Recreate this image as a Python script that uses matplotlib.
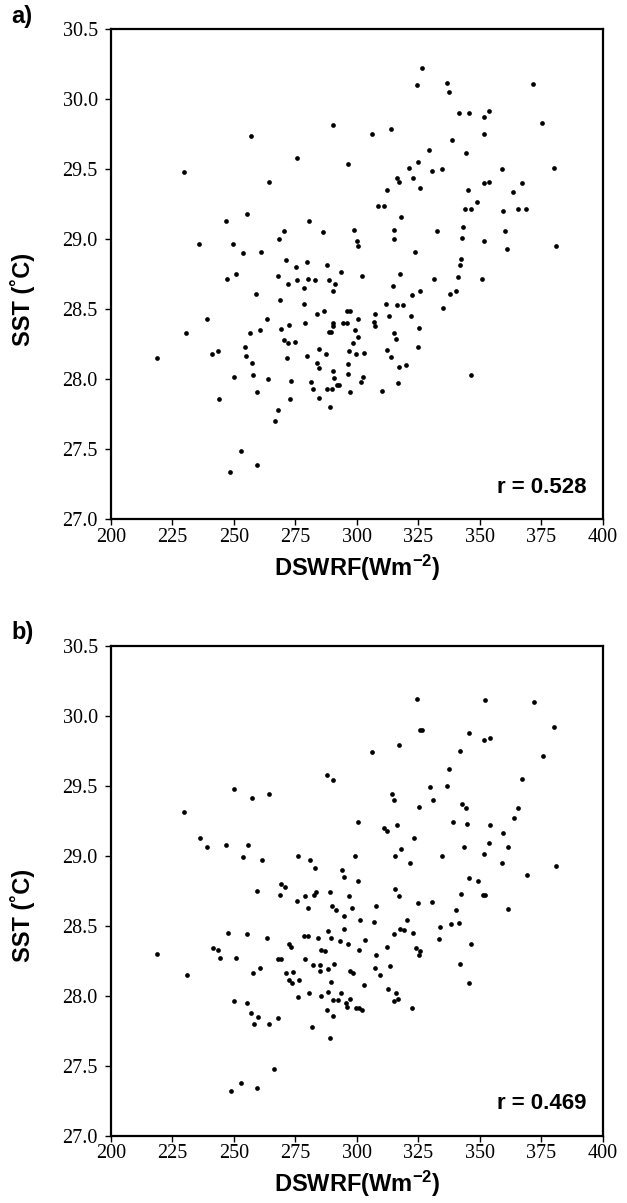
#!/usr/bin/env python3
"""Two-panel scatter: SST versus downward shortwave radiation flux."""

import matplotlib

matplotlib.use("Agg")
import matplotlib.pyplot as plt
from matplotlib.ticker import FormatStrFormatter

plt.rcParams["mathtext.fontset"] = "custom"
plt.rcParams["mathtext.rm"] = "Liberation Sans:bold"
plt.rcParams["mathtext.default"] = "rm"

# panel a) values
A_DSWRF = [
    229.6, 256.9, 290.2, 275.8, 296.4, 264.1, 255.5, 246.6, 280.5, 270.3,
    286.2, 268.4, 236.0, 249.8, 253.6, 261.1, 271.1, 275.3, 279.7, 287.7,
    293.5, 247.3, 250.8, 267.8, 272.0, 275.6, 280.1, 283.1, 288.7, 291.1,
    278.6, 290.5, 259.2, 268.9, 278.6, 239.0, 230.7, 263.4, 286.6, 284.0,
    296.1, 297.3, 278.8, 272.6, 290.5, 290.2, 289.6, 288.9, 294.2, 296.2,
    269.0, 256.6, 260.5, 270.4, 272.2, 275.0, 254.5, 255.1, 241.1, 243.4,
    218.9, 257.4, 271.8, 279.8, 284.6, 287.4, 284.0, 284.6, 296.8, 296.4,
    290.2, 290.7, 296.3, 249.9, 257.9, 263.8, 273.1, 281.2, 282.0, 287.8,
    289.8, 291.8, 292.6, 297.3, 259.6, 244.1, 273.0, 284.7, 289.1, 267.9,
    266.8, 252.8, 248.6, 259.3,
    326.4, 324.4, 336.6, 337.4, 371.9, 341.6, 345.5, 351.8, 353.8, 375.3,
    306.0, 314.0, 351.9, 338.8, 329.5, 344.5, 325.0, 321.3, 330.7, 334.6,
    316.2, 317.2, 322.9, 325.6, 359.0, 380.1, 351.6, 353.8, 367.1, 363.6,
    312.1, 345.4, 349.0, 344.1, 346.4, 359.4, 365.6, 369.0, 308.5, 311.1,
    317.8, 298.8, 315.0, 315.3, 300.2, 300.3, 332.6, 343.1, 342.8, 351.8,
    360.5, 361.2, 381.0, 323.7, 342.3, 341.8, 302.1, 317.7, 331.6, 341.2,
    351.1, 314.7, 325.6, 322.6, 338.1, 340.3, 312.0, 316.5, 318.9, 334.9,
    300.7, 299.3, 300.7, 298.4, 299.5, 302.9, 302.4, 301.6, 307.3, 307.0,
    307.3, 313.0, 322.0, 325.2, 315.1, 316.1, 324.8, 312.4, 313.8, 317.2,
    319.9, 316.7, 310.3, 346.3,
]
A_SST = [
    29.48, 29.74, 29.82, 29.58, 29.54, 29.41, 29.18, 29.13, 29.13, 29.06,
    29.05, 29.00, 28.97, 28.97, 28.90, 28.91, 28.85, 28.80, 28.84, 28.82,
    28.77, 28.72, 28.75, 28.74, 28.68, 28.71, 28.72, 28.71, 28.71, 28.68,
    28.65, 28.63, 28.61, 28.57, 28.54, 28.43, 28.33, 28.43, 28.49, 28.47,
    28.49, 28.49, 28.40, 28.39, 28.40, 28.38, 28.34, 28.34, 28.40, 28.40,
    28.36, 28.33, 28.35, 28.28, 28.26, 28.27, 28.23, 28.17, 28.18, 28.20,
    28.15, 28.12, 28.15, 28.17, 28.22, 28.18, 28.12, 28.08, 28.20, 28.11,
    28.06, 28.01, 28.04, 28.02, 28.03, 28.00, 27.99, 27.98, 27.93, 27.93,
    27.93, 27.96, 27.96, 27.91, 27.91, 27.86, 27.86, 27.87, 27.80, 27.78,
    27.70, 27.49, 27.34, 27.39,
    30.225, 30.10, 30.12, 30.05, 30.11, 29.90, 29.90, 29.875, 29.92, 29.83,
    29.75, 29.79, 29.75, 29.71, 29.64, 29.62, 29.55, 29.51, 29.49, 29.50,
    29.44, 29.41, 29.44, 29.37, 29.50, 29.51, 29.40, 29.41, 29.40, 29.34,
    29.35, 29.35, 29.27, 29.22, 29.22, 29.20, 29.22, 29.22, 29.24, 29.24,
    29.16, 29.07, 29.07, 29.00, 28.99, 28.95, 29.06, 29.09, 29.01, 28.99,
    29.06, 28.93, 28.95, 28.91, 28.86, 28.82, 28.74, 28.75, 28.72, 28.73,
    28.72, 28.67, 28.63, 28.60, 28.61, 28.63, 28.54, 28.53, 28.53, 28.51,
    28.43, 28.35, 28.30, 28.26, 28.18, 28.19, 28.02, 27.98, 28.47, 28.41,
    28.38, 28.45, 28.45, 28.37, 28.33, 28.29, 28.23, 28.21, 28.16, 28.09,
    28.10, 27.975, 27.92, 28.03,
]

# panel b) values
B_DSWRF = [
    250.1, 257.2, 264.3, 229.9, 236.3, 239.2, 246.8, 255.9, 253.9, 261.4,
    324.6, 325.7, 326.7, 317.3, 306.3, 287.8, 290.4, 314.2, 315.3, 329.8,
    330.9, 325.2, 300.5, 311.1, 312.2, 316.5, 323.1, 318.2, 315.4, 321.5,
    276.0, 280.8, 283.2, 293.8, 299.1,
    352.1, 372.2, 380.4, 345.8, 351.8, 354.1, 341.9, 375.6, 337.7, 336.9,
    367.3, 342.8, 344.4, 365.8, 363.9, 339.0, 344.7, 354.4, 359.7, 354.0,
    361.4, 343.5, 351.6, 334.8, 359.2, 380.9, 369.2,
    259.5, 247.7, 255.2, 263.4, 241.4, 243.7, 244.3, 251.0, 218.9, 230.9,
    257.7, 260.6, 250.2, 255.5, 257.0, 260.0, 258.1, 264.4, 266.4, 253.1,
    248.9, 259.5,
    294.9, 300.6, 269.2, 270.8, 268.7, 275.6, 278.9, 282.8, 283.6, 289.3,
    296.9, 280.0, 289.9, 291.4, 298.1, 294.7, 295.0, 288.1, 301.5, 307.1,
    307.8, 315.7, 317.1, 324.8, 330.8, 320.6, 317.6, 319.1, 315.0, 322.7,
    333.8, 333.4, 278.6, 280.1, 284.2, 289.5, 293.0, 296.6, 303.3, 272.3,
    273.1, 285.3, 287.0, 301.0, 312.4, 323.9, 325.9, 325.5, 307.7, 268.0,
    269.1, 279.0, 282.3, 284.9, 284.9, 288.1, 290.7, 297.2, 298.6, 307.6,
    313.4, 309.5, 271.2, 273.9, 272.4, 273.6, 276.4, 289.6, 302.9, 312.9,
    315.9, 316.7, 315.2, 275.9, 280.5, 285.3, 288.1, 293.4, 290.4, 292.5,
    297.3, 295.8, 296.1, 299.8, 301.0, 302.0, 322.6, 288.0, 290.2, 268.0,
    281.6, 289.3,
    345.7, 349.2, 342.6, 351.3, 352.1, 361.7, 340.5, 338.2, 341.5, 346.6,
    342.1, 345.5,
]
B_SST = [
    29.48, 29.41, 29.44, 29.31, 29.13, 29.06, 29.08, 29.08, 28.99, 28.97,
    30.12, 29.90, 29.90, 29.79, 29.74, 29.58, 29.54, 29.44, 29.40, 29.49,
    29.40, 29.35, 29.24, 29.20, 29.18, 29.22, 29.13, 29.05, 28.995, 28.95,
    29.00, 28.97, 28.91, 28.90, 29.00,
    30.11, 30.10, 29.92, 29.88, 29.83, 29.84, 29.75, 29.71, 29.62, 29.50,
    29.55, 29.37, 29.34, 29.34, 29.27, 29.24, 29.23, 29.22, 29.16, 29.09,
    29.06, 29.06, 29.01, 28.995, 28.95, 28.93, 28.86,
    28.75, 28.45, 28.44, 28.41, 28.34, 28.33, 28.27, 28.27, 28.30, 28.15,
    28.16, 28.20, 27.96, 27.95, 27.88, 27.85, 27.80, 27.80, 27.48, 27.38,
    27.32, 27.34,
    28.85, 28.82, 28.80, 28.78, 28.72, 28.68, 28.71, 28.72, 28.74, 28.74,
    28.71, 28.63, 28.64, 28.61, 28.63, 28.57, 28.48, 28.46, 28.54, 28.53,
    28.64, 28.76, 28.71, 28.66, 28.67, 28.54, 28.48, 28.47, 28.44, 28.45,
    28.49, 28.405, 28.43, 28.43, 28.41, 28.41, 28.39, 28.37, 28.40, 28.37,
    28.35, 28.33, 28.32, 28.33, 28.35, 28.34, 28.32, 28.29, 28.29, 28.26,
    28.26, 28.26, 28.22, 28.22, 28.18, 28.19, 28.23, 28.18, 28.16, 28.20,
    28.21, 28.15, 28.16, 28.17, 28.11, 28.09, 28.11, 28.10, 28.08, 28.05,
    28.02, 27.98, 27.96, 27.99, 28.02, 28.00, 28.03, 28.02, 27.97, 27.97,
    27.98, 27.95, 27.92, 27.91, 27.91, 27.90, 27.91, 27.90, 27.855, 27.84,
    27.78, 27.70,
    28.84, 28.82, 28.73, 28.72, 28.72, 28.62, 28.61, 28.51, 28.52, 28.37,
    28.23, 28.09,
]

X_TICKS = [200, 225, 250, 275, 300, 325, 350, 375, 400]
Y_TICKS = [27.0, 27.5, 28.0, 28.5, 29.0, 29.5, 30.0, 30.5]
PANEL_LABELS = ["a)", "b)"]
R_LABELS = ["r = 0.528", "r = 0.469"]

SANS = ["Liberation Sans", "DejaVu Sans"]
SERIF = ["Liberation Serif", "DejaVu Serif"]


def draw_panel(ax, x, y, r_text):
    ax.plot(x, y, "o", color="black", markersize=3.4, markeredgewidth=0, linestyle="none")
    ax.set_xlim(X_TICKS[0], X_TICKS[-1])
    ax.set_ylim(Y_TICKS[0], Y_TICKS[-1])
    ax.set_xticks(X_TICKS)
    ax.set_yticks(Y_TICKS)
    ax.yaxis.set_major_formatter(FormatStrFormatter("%.1f"))
    for spine in ax.spines.values():
        spine.set_linewidth(1.6)
    ax.tick_params(axis="both", direction="out", length=4.5, width=1.0)
    ax.tick_params(axis="x", pad=1.5)
    ax.tick_params(axis="y", pad=5)
    for lab in ax.get_xticklabels() + ax.get_yticklabels():
        lab.set_fontfamily(SERIF)
        lab.set_fontsize(14.5)
    ax.set_xlabel(r"DSWRF(Wm$^{-2}$)", fontsize=17, fontweight="bold",
                  family=SANS, labelpad=4)
    ax.set_ylabel("SST (˚C)", fontsize=17, fontweight="bold", family=SANS)
    ax.yaxis.set_label_coords(-0.155, 0.45)
    ax.text(0.967, 0.054, r_text, transform=ax.transAxes, ha="right",
            va="baseline", fontsize=16, fontweight="bold", family=SANS)


def main():
    fig = plt.figure(figsize=(6.27, 12.03), dpi=100)
    ax_a = fig.add_axes([0.177, 0.5682, 0.784, 0.4073])
    ax_b = fig.add_axes([0.177, 0.0559, 0.784, 0.4073])

    draw_panel(ax_a, A_DSWRF, A_SST, R_LABELS[0])
    draw_panel(ax_b, B_DSWRF, B_SST, R_LABELS[1])

    fig.text(0.018, 0.996, PANEL_LABELS[0], ha="left", va="top",
             fontsize=17, fontweight="bold", family=SANS)
    fig.text(0.018, 0.996 - 616.0 / 1203, PANEL_LABELS[1], ha="left", va="top",
             fontsize=17, fontweight="bold", family=SANS)

    fig.savefig("out.png", dpi=100)
    plt.close(fig)


if __name__ == "__main__":
    main()
